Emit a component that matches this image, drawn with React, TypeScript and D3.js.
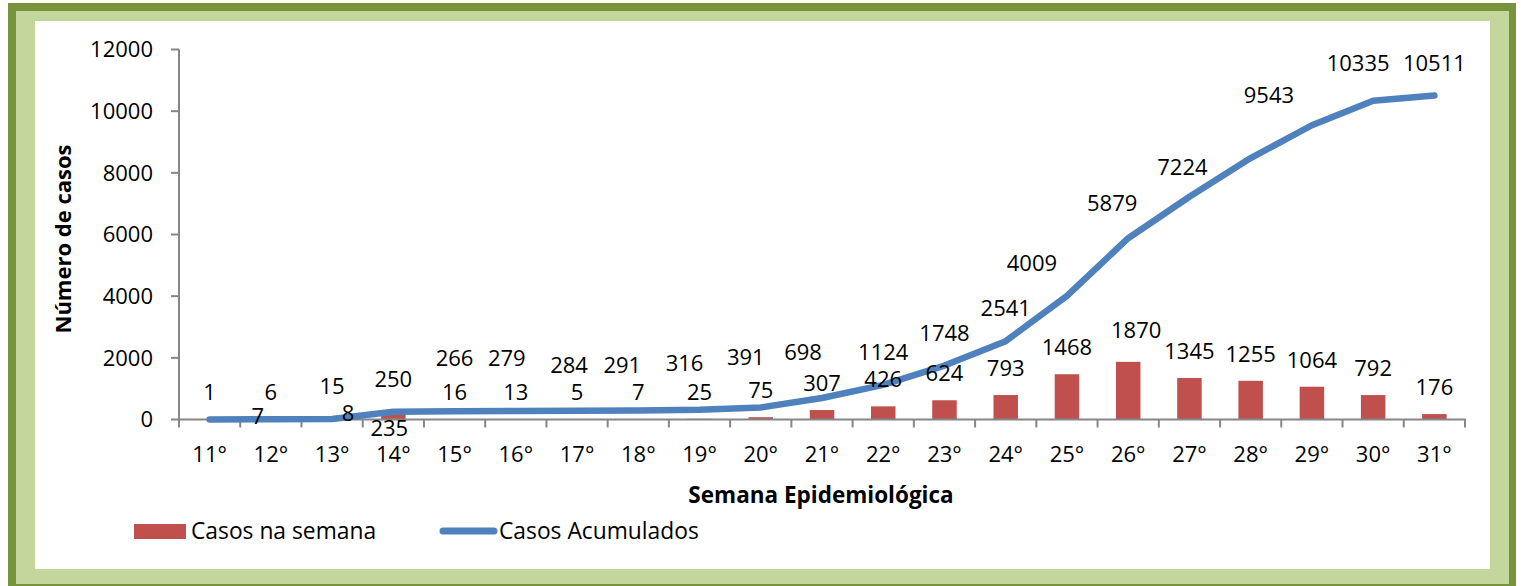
import React from "react";
import * as d3 from "d3";

// ---- data ----
const weeks = ["11°", "12°", "13°", "14°", "15°", "16°", "17°", "18°", "19°", "20°", "21°", "22°", "23°", "24°", "25°", "26°", "27°", "28°", "29°", "30°", "31°"];
const weeklyCases = [1, 6, 8, 235, 16, 13, 5, 7, 25, 75, 307, 426, 624, 793, 1468, 1870, 1345, 1255, 1064, 792, 176];
const cumulativeCases = [1, 7, 15, 250, 266, 279, 284, 291, 316, 391, 698, 1124, 1748, 2541, 4009, 5879, 7224, 8479, 9543, 10335, 10511];
const yTicks = [0, 2000, 4000, 6000, 8000, 10000, 12000];
const seriesNames = ["Casos na semana", "Casos Acumulados"];

// manual label placement (as in the original, labels dragged by hand)
const hiddenLineLabels = [0, 17];
const lineLabelNudge: Record<number, [number, number]> = {
  1: [-13, -3], 4: [0, -53], 5: [-9, -53], 6: [-8, -46], 7: [-16, -45], 8: [-15, -47],
  9: [-15, -50], 10: [-19, -46], 14: [-35, -33], 15: [-16, -35], 16: [-7, -30],
  18: [-43, -30], 19: [-15, -38], 20: [0, -32],
};
const barLabelNudge: Record<number, [number, number]> = {
  2: [16, -6], 3: [-4, 16], 15: [8, -32],
};

const W = 1521, H = 586;
const BLUE = "#4F81BD", RED = "#C0504D", AXIS = "#868686";
const FONT = "'Open Sans', 'DejaVu Sans', sans-serif";

export default function App() {
  const x = d3.scaleBand<string>().domain(weeks).range([179, 1465]).paddingInner(0).paddingOuter(0);
  const y = d3.scaleLinear().domain([0, 12000]).range([419.5, 49.5]);
  const bw = x.bandwidth();
  const barW = bw * 0.4;
  const cx = (w: string) => (x(w) as number) + bw / 2;

  const line = d3.line<number>()
    .x((_, i) => cx(weeks[i]))
    .y((d) => y(d))
    .curve(d3.curveLinear);

  return (
    <svg width={W} height={H} style={{ position: "absolute", left: 0, top: 0 }} fontFamily={FONT}>
      {/* frame */}
      <rect x={8} y={3} width={1508} height={600} fill="#77933C" />
      <rect x={16} y={11} width={1493} height={573} fill="#C3D69B" />
      <rect x={35} y={21} width={1455} height={548} fill="#FFFFFF" />

      {/* bars */}
      {weeklyCases.map((v, i) => (
        <rect key={"b" + i} x={cx(weeks[i]) - barW / 2} y={y(v)} width={barW} height={y(0) - y(v)} fill={RED} />
      ))}

      {/* axes */}
      <line x1={179} x2={179} y1={y(12000)} y2={y(0)} stroke={AXIS} strokeWidth={2} />
      {yTicks.map((t) => (
        <g key={"yt" + t}>
          <line x1={171} x2={179} y1={y(t)} y2={y(t)} stroke={AXIS} strokeWidth={2} />
          <text x={153} y={y(t)} dy="0.36em" textAnchor="end" fontSize={22} fill="#000">{t}</text>
        </g>
      ))}
      <line x1={178} x2={1466} y1={y(0)} y2={y(0)} stroke={AXIS} strokeWidth={2} />
      {weeks.map((w, i) => (
        <line key={"xt" + i} x1={x(w) as number} x2={x(w) as number} y1={y(0)} y2={y(0) + 8} stroke={AXIS} strokeWidth={2} />
      ))}
      <line x1={1465} x2={1465} y1={y(0)} y2={y(0) + 8} stroke={AXIS} strokeWidth={2} />
      {weeks.map((w) => (
        <text key={"xl" + w} x={cx(w)} y={462} textAnchor="middle" fontSize={22} fill="#000">{w}</text>
      ))}

      {/* cumulative line */}
      <path d={line(cumulativeCases) || ""} fill="none" stroke={BLUE} strokeWidth={6.5} strokeLinejoin="round" strokeLinecap="round" />

      {/* bar labels */}
      {weeklyCases.map((v, i) => {
        const [dx, dy] = barLabelNudge[i] || [0, -27];
        return (
          <text key={"bl" + i} x={cx(weeks[i]) + dx} y={y(v) + dy} dy="0.36em" textAnchor="middle" fontSize={22} fill="#000">{v}</text>
        );
      })}

      {/* line labels */}
      {cumulativeCases.map((v, i) => {
        if (hiddenLineLabels.includes(i)) return null;
        const [dx, dy] = lineLabelNudge[i] || [0, -33];
        return (
          <text key={"ll" + i} x={cx(weeks[i]) + dx} y={y(v) + dy} dy="0.36em" textAnchor="middle" fontSize={22} fill="#000">{v}</text>
        );
      })}

      {/* axis titles */}
      <text transform={`translate(71,${239}) rotate(-90)`} textAnchor="middle" fontSize={22} fontWeight="bold" fill="#000">Número de casos</text>
      <text x={821} y={503} textAnchor="middle" fontSize={22.5} fontWeight="bold" fill="#000">Semana Epidemiológica</text>

      {/* legend */}
      <rect x={134} y={524} width={52} height={15} fill={RED} />
      <text x={191} y={539} fontSize={22.8} fill="#000">{seriesNames[0]}</text>
      <line x1={443} x2={494} y1={531} y2={531} stroke={BLUE} strokeWidth={7} strokeLinecap="round" />
      <text x={499} y={539} fontSize={22.8} fill="#000">{seriesNames[1]}</text>
    </svg>
  );
}
